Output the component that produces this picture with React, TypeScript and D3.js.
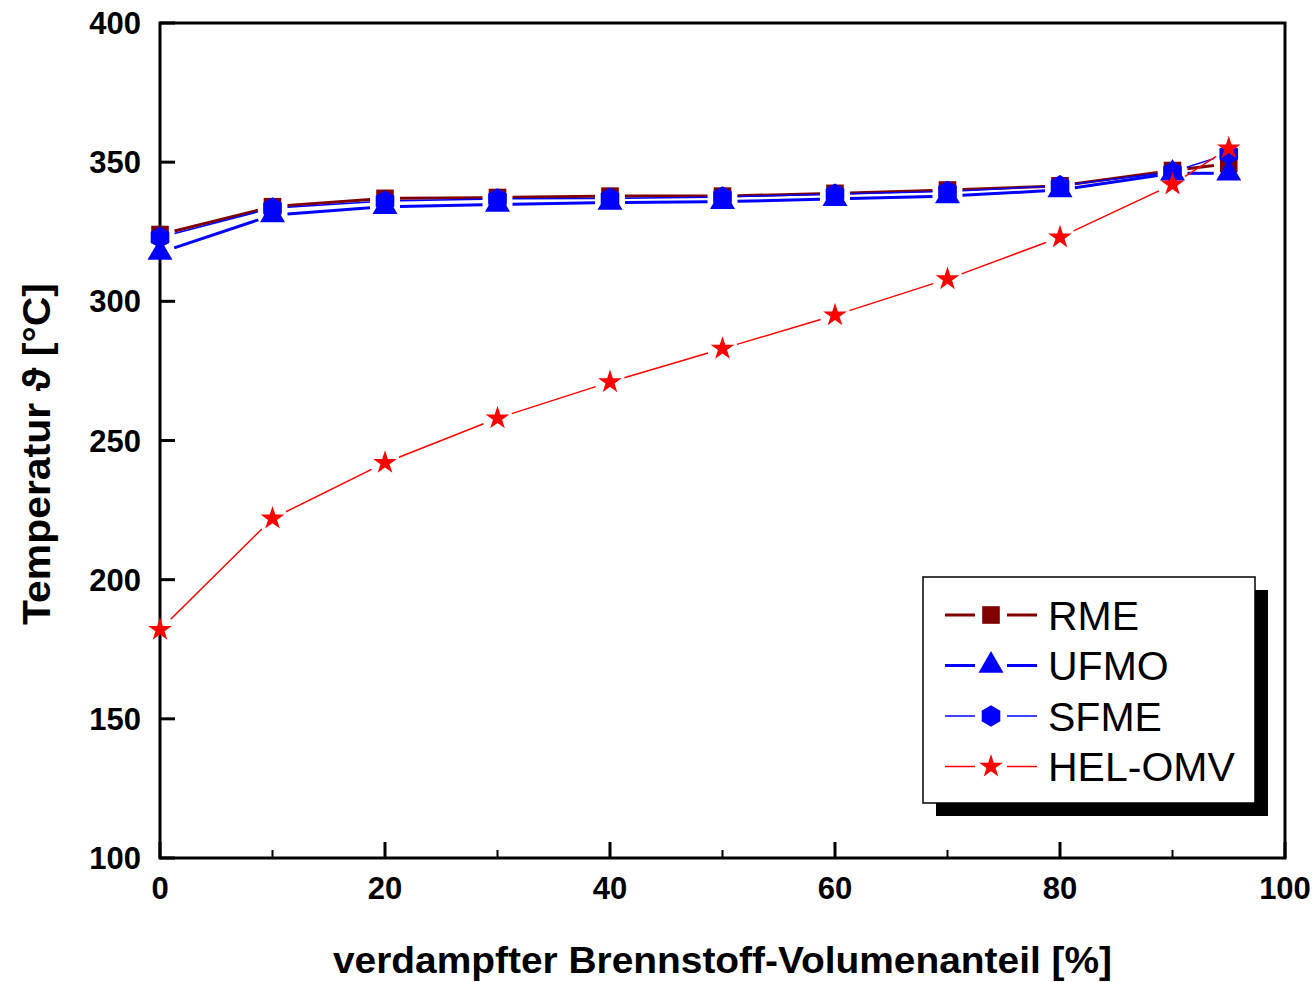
import React from 'react';
import * as d3 from 'd3';

// verdampfter Volumenanteil [%]
const xValues = [0, 10, 20, 30, 40, 50, 60, 70, 80, 90, 95];
const rme = [324, 334, 337, 337.3, 337.8, 337.8, 338.8, 340, 341.5, 347, 349.5];
const ufmo = [317.5, 331, 334, 334.8, 335.5, 335.8, 336.8, 337.8, 340, 346, 346];
const sfme = [323, 333.5, 336, 336.8, 337, 337.5, 338.5, 339.5, 341.5, 346.5, 353];
const helOmv = [182, 222, 242, 258, 271, 283, 295, 308, 323, 342, 355];

const xTicks = [0, 20, 40, 60, 80, 100];
const xMinorTicks = [10, 30, 50, 70, 90];
const yTicks = [100, 150, 200, 250, 300, 350, 400];

const W = 1316;
const H = 982;
const margin = {left: 160, right: 31, top: 23, bottom: 124};

const hexagon = {
    draw(ctx: any, size: number) {
        const r = Math.sqrt(size / (1.5 * Math.sqrt(3)));
        for (let i = 0; i < 6; i++) {
            const a = -Math.PI / 2 + (i * Math.PI) / 3;
            const px = r * Math.cos(a), py = r * Math.sin(a);
            if (i === 0) ctx.moveTo(px, py); else ctx.lineTo(px, py);
        }
        ctx.closePath();
    }
};

const series = [
    {name: 'RME', values: rme, color: '#800000', width: 3, symbol: d3.symbolSquare, size: 310},
    {name: 'UFMO', values: ufmo, color: '#0000ff', width: 3, symbol: d3.symbolTriangle, size: 270},
    {name: 'SFME', values: sfme, color: '#0000ff', width: 1.5, symbol: hexagon, size: 300},
    {name: 'HEL-OMV', values: helOmv, color: '#ff0000', width: 1.5, symbol: d3.symbolStar, size: 175},
];

const GAP = 15;

// line pieces with a gap around each marker
function gappedSegments(pts: [number, number][]) {
    const segs: string[] = [];
    for (let i = 0; i < pts.length - 1; i++) {
        const [x1, y1] = pts[i];
        const [x2, y2] = pts[i + 1];
        const len = Math.hypot(x2 - x1, y2 - y1);
        if (len <= GAP * 2) continue;
        const ux = (x2 - x1) / len, uy = (y2 - y1) / len;
        segs.push(`M${x1 + ux * GAP},${y1 + uy * GAP}L${x2 - ux * GAP},${y2 - uy * GAP}`);
    }
    return segs;
}

export default function App() {
    const x = d3.scaleLinear().domain([0, 100]).range([margin.left, W - margin.right]);
    const y = d3.scaleLinear().domain([100, 400]).range([H - margin.bottom, margin.top]);
    const font = '"Liberation Sans", Arial, sans-serif';

    const x0 = x(0), x1 = x(100), y0 = y(100), y1 = y(400);

    // legend
    const lgX = 923, lgY = 577, lgW = 332, lgH = 226;
    const rowY = (i: number) => lgY + 38 + i * 50.5;

    return (
        <svg width={W} height={H} style={{position: 'absolute', left: 0, top: 0, background: '#fff'}}>
            <rect width={W} height={H} fill="#fff"/>

            {/* frame */}
            <rect x={x0} y={y1} width={x1 - x0} height={y0 - y1} fill="none" stroke="#000" strokeWidth={3}/>

            {/* y ticks */}
            {yTicks.map(t => (
                <g key={'y' + t}>
                    <line x1={x0} x2={x0 + 15} y1={y(t)} y2={y(t)} stroke="#000" strokeWidth={3}/>
                    <text x={x0 - 19} y={y(t)} dy="0.36em" textAnchor="end" fontFamily={font}
                          fontWeight="bold" fontSize={31}>{t}</text>
                </g>
            ))}

            {/* x ticks */}
            {xTicks.map(t => (
                <g key={'x' + t}>
                    <line x1={x(t)} x2={x(t)} y1={y0} y2={y0 - 16} stroke="#000" strokeWidth={3}/>
                    <text x={x(t)} y={y0 + 41} textAnchor="middle" fontFamily={font}
                          fontWeight="bold" fontSize={31}>{t}</text>
                </g>
            ))}
            {xMinorTicks.map(t => (
                <line key={'xm' + t} x1={x(t)} x2={x(t)} y1={y0} y2={y0 - 8} stroke="#000" strokeWidth={2}/>
            ))}

            {/* axis titles */}
            <text x={(x0 + x1) / 2} y={973} textAnchor="middle" fontFamily={font} fontWeight="bold"
                  fontSize={37} textLength={779} lengthAdjust="spacingAndGlyphs">verdampfter Brennstoff-Volumenanteil [%]</text>
            <text transform={`translate(50,454) rotate(-90)`} textAnchor="middle" fontFamily={font}
                  fontWeight="bold" fontSize={39} textLength={342} lengthAdjust="spacingAndGlyphs">Temperatur ϑ [°C]</text>

            {/* series */}
            {series.map(s => {
                const pts = xValues.map((v, i) => [x(v), y(s.values[i])] as [number, number]);
                const sym = d3.symbol(s.symbol as any, s.size)();
                return (
                    <g key={s.name}>
                        {gappedSegments(pts).map((d, i) => (
                            <path key={i} d={d} stroke={s.color} strokeWidth={s.width} fill="none"/>
                        ))}
                        {pts.map(([px, py], i) => (
                            <path key={'m' + i} d={sym as string} transform={`translate(${px},${py})`} fill={s.color}/>
                        ))}
                    </g>
                );
            })}

            {/* legend */}
            <rect x={lgX + 13} y={lgY + 13} width={lgW} height={lgH} fill="#000"/>
            <rect x={lgX} y={lgY} width={lgW} height={lgH} fill="#fff" stroke="#000" strokeWidth={1.5}/>
            {series.map((s, i) => {
                const cy = rowY(i);
                const sym = d3.symbol(s.symbol as any, s.size)();
                return (
                    <g key={'lg' + s.name}>
                        <line x1={945} x2={975} y1={cy} y2={cy} stroke={s.color} strokeWidth={s.width}/>
                        <line x1={1007} x2={1037} y1={cy} y2={cy} stroke={s.color} strokeWidth={s.width}/>
                        <path d={sym as string} transform={`translate(991,${cy})`} fill={s.color}/>
                        <text x={1048} y={cy} dy="0.36em" fontFamily={font} fontSize={41}>{s.name}</text>
                    </g>
                );
            })}
        </svg>
    );
}
